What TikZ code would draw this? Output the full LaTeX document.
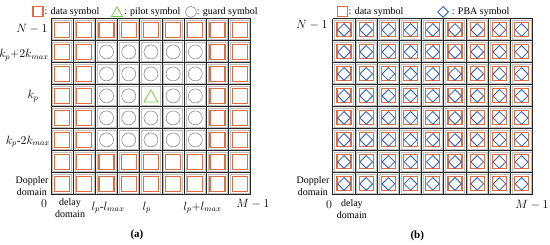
\documentclass[tikz,border=0pt]{standalone}
\usepackage{fontspec}
\setmainfont{Liberation Serif}
\usepackage{tikz}
\usetikzlibrary{shapes.geometric}
\definecolor{dataorange}{RGB}{226,107,64}
\definecolor{pilotgreen}{RGB}{125,200,75}
\definecolor{pbablue}{RGB}{40,90,195}

\begin{document}
\begin{tikzpicture}[
  x=22.2pt, y=22pt,
  cellbox/.style={draw=black!25, line width=0.4pt},
  gridline/.style={draw=black!85, line width=1pt},
  datasym/.style={rectangle, draw=dataorange, line width=1.1pt, minimum size=15pt, inner sep=0pt},
  guardsym/.style={circle, draw=black!45, line width=0.6pt, minimum size=14pt, inner sep=0pt},
  pilotsym/.style={regular polygon, regular polygon sides=3, draw=pilotgreen, line width=0.8pt, minimum size=16pt, inner sep=0pt},
  pbasym/.style={diamond, draw=pbablue, line width=0.8pt, minimum size=13pt, inner sep=0pt},
  legtext/.style={anchor=west, inner sep=0pt, font=\normalsize},
  axlabel/.style={inner sep=0pt, font=\fontsize{11.5}{12}\selectfont},
  domtext/.style={inner sep=0pt, font=\normalsize, align=center},
  caption/.style={inner sep=0pt, font=\bfseries\fontsize{11}{12}\selectfont}
]
  \useasboundingbox (-2.30,-2.27) rectangle (22.48,8.86);

  % (a): pilot, guard and data grid
  \begin{scope}
    \foreach \c in {0,...,8} \foreach \r in {0,...,7}
      \draw[cellbox] (\c+0.07,\r+0.07) rectangle (\c+0.93,\r+0.93);
    \draw[gridline, step=1] (0,0) grid (9,8);

    % data symbols around the guard area
    \foreach \c in {0,1,7,8} \foreach \r in {0,...,7}
      \node[datasym] (da-\c-\r) at (\c+0.5,\r+0.5) {};
    \foreach \c in {2,...,6} \foreach \r in {0,1,7}
      \node[datasym] (da-\c-\r) at (\c+0.5,\r+0.5) {};

    % guard symbols and the pilot
    \foreach \c in {2,...,6} \foreach \r in {2,...,6}
      {\ifnum\c\r=44 \else \node[guardsym] (ga-\c-\r) at (\c+0.5,\r+0.5) {};\fi}
    \node[pilotsym, yshift=-2pt] (pilot) at (4.5,4.5) {};

    % legend
    \node[datasym, minimum size=10pt] (legdata-a) at (-0.59,8.32) {};
    \node[legtext] (legdatatext-a) at (-0.30,8.32) {: data symbol};
    \node[pilotsym, minimum size=13pt, yshift=-1.5pt] (legpilot) at (2.97,8.32) {};
    \node[legtext] (legpilottext) at (3.28,8.32) {: pilot symbol};
    \node[guardsym, minimum size=11pt] (legguard) at (6.30,8.32) {};
    \node[legtext] (legguardtext) at (6.56,8.32) {: guard symbol};

    % row labels
    \node[axlabel] (Ntop-a) at (-0.86,7.55) {$N-1$};
    \node[axlabel] (kpup) at (-1.22,6.35) {$k_p{+}2k_{max}$};
    \node[axlabel] (kp) at (-0.81,4.5) {$k_p$};
    \node[axlabel] (kpdown) at (-1.04,2.42) {$k_p$-$2k_{max}$};
    \node[domtext] (doppler-a) at (-0.86,0.39) {Doppler\\domain};

    % column labels
    \node[axlabel] (zero-a) at (-0.32,-0.40) {$0$};
    \node[domtext, anchor=north west] (delay-a) at (0.17,-0.18) {delay\\domain};
    \node[axlabel] (lpdown) at (2.57,-0.58) {$l_p$-$l_{max}$};
    \node[axlabel] (lp) at (4.31,-0.58) {$l_p$};
    \node[axlabel] (lpup) at (6.82,-0.58) {$l_p{+}l_{max}$};
    \node[axlabel] (Mend-a) at (9.10,-0.40) {$M-1$};

    \node[caption] (cap-a) at (3.87,-1.80) {(a)};
  \end{scope}

  % (b): data symbols with PBA symbols on top
  \begin{scope}[shift={(12.70,0)}]
    \foreach \c in {0,...,8} \foreach \r in {0,...,7}
      \draw[cellbox] (\c+0.07,\r+0.07) rectangle (\c+0.93,\r+0.93);
    \draw[gridline, step=1] (0,0) grid (9,8);

    \foreach \c in {0,...,8} \foreach \r in {0,...,7} {
      \node[datasym, minimum size=14pt] (db-\c-\r) at (\c+0.5,\r+0.5) {};
      \node[pbasym] (pb-\c-\r) at (\c+0.5,\r+0.5) {};
    }

    % legend
    \node[datasym, minimum size=10pt] (legdata-b) at (0.45,8.32) {};
    \node[legtext] (legdatatext-b) at (0.70,8.32) {: data symbol};
    \node[pbasym, minimum size=11pt] (legpba) at (4.96,8.32) {};
    \node[legtext] (legpbatext) at (5.35,8.32) {: PBA symbol};

    % axis labels
    \node[axlabel] (Ntop-b) at (-0.95,7.73) {$N-1$};
    \node[domtext] (doppler-b) at (-0.90,0.39) {Doppler\\domain};
    \node[axlabel] (zero-b) at (-0.18,-0.45) {$0$};
    \node[domtext, anchor=north west] (delay-b) at (0.17,-0.20) {delay\\domain};
    \node[axlabel] (Mend-b) at (8.97,-0.45) {$M-1$};

    \node[caption] (cap-b) at (3.80,-1.85) {(b)};
  \end{scope}
\end{tikzpicture}
\end{document}
